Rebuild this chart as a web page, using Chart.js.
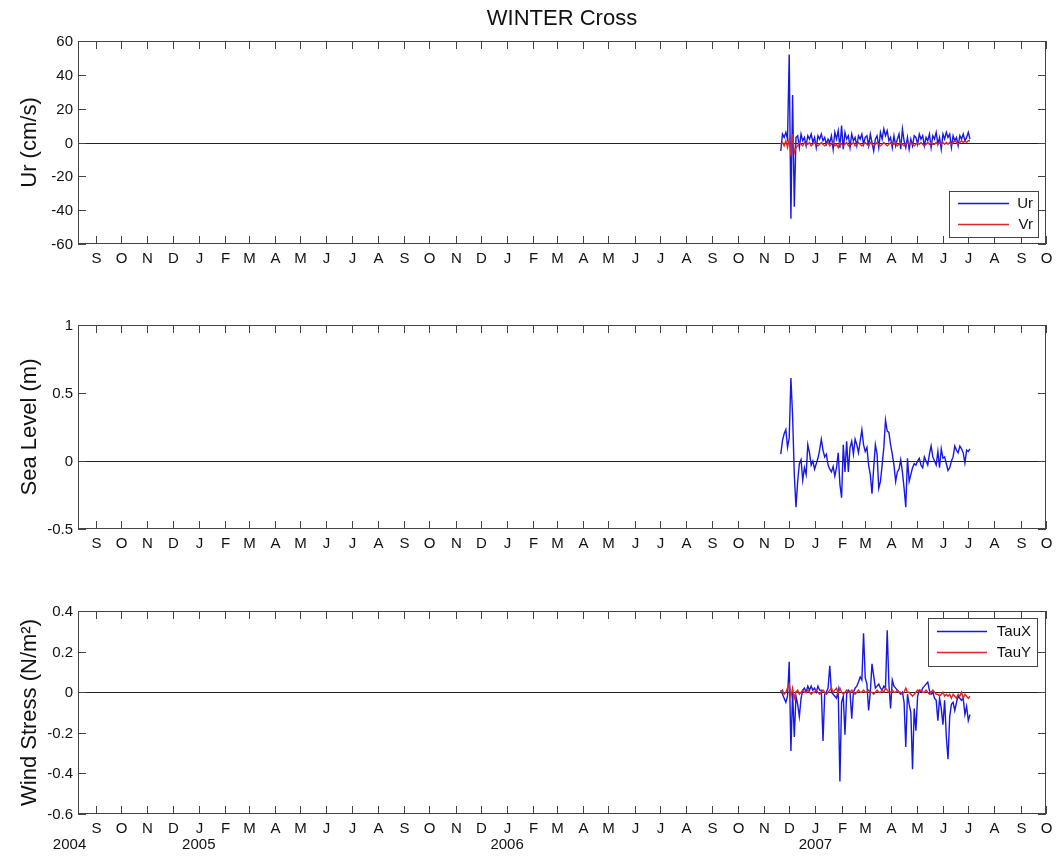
<!DOCTYPE html>
<html>
<head>
<meta charset="utf-8">
<title>WINTER Cross</title>
<script src="https://cdn.jsdelivr.net/npm/chart.js@4.4.1/dist/chart.umd.min.js"></script>
<style>
  html, body { margin: 0; padding: 0; background: #fff; }
  #wrap { position: relative; width: 1056px; height: 857px; }
  canvas { position: absolute; left: 0; }
</style>
</head>
<body>
<div id="wrap">
  <canvas id="chart1" width="1056" height="290" style="top:0px"></canvas>
  <canvas id="chart2" width="1056" height="285" style="top:290px"></canvas>
  <canvas id="chart3" width="1056" height="282" style="top:575px"></canvas>
</div>
<script>
"use strict";
const BLUE = '#1818e6';
const RED = '#e02424';
const FONT = '"Liberation Sans", Arial, Helvetica, sans-serif';

// x axis: month ticks from Sep 2004 to Oct 2007
const xTickLabels = [
  'S', 'O', 'N', 'D',
  'J', 'F', 'M', 'A', 'M', 'J', 'J', 'A', 'S', 'O', 'N', 'D',
  'J', 'F', 'M', 'A', 'M', 'J', 'J', 'A', 'S', 'O', 'N', 'D',
  'J', 'F', 'M', 'A', 'M', 'J', 'J', 'A', 'S', 'O'
];
const yearLabels = ['2004', '2005', '2006', '2007'];
const yearDates = [[2004, 7, 1], [2005, 0, 1], [2006, 0, 1], [2007, 0, 1]];

// series: one value every 2 days from 21 Nov 2006
const seriesStart = [2006, 10, 21];
const stepDays = 2;

const urValues = [
  -5, 5, 3, 6, 2, 52, -45, 28, -38, 3,
  4, -3, 5, 1, 3, -2, 4, 2, 5, 0,
  3, -3, 4, 2, 5, 1, 3, -1, 2, 0,
  4, -4, 6, 2, 7, -3, 10, -4, 6, 2,
  4, -3, 5, 1, 3, -2, 4, 2, 5, -1,
  3, 4, -2, 5, 0, -5, 2, 4, -3, 6,
  2, 8, 4, 7, 1, 3, -3, 4, -2, 2,
  5, -4, 8, 1, -3, 3, -4, 2, -2, 4,
  3, -1, 5, 2, 4, -2, 3, 1, 5, -3,
  4, 2, 6, -1, 3, -4, 5, 2, 6, 3,
  5, -3, 4, 1, 3, -2, 4, 2, 5, 1,
  3, 6, 2
];
const vrValues = [
  -1, 0, -2, 1, -3, 2, -8, 5, -6, -3,
  -2, 0, -1, -2, 0, -1, -1, 0, -2, -1,
  0, -1, -2, -1, 0, -1, -2, -1, 0, -2,
  -1, 0, -2, -1, -3, 0, -1, -2, -1, 0,
  -2, -1, -1, 0, -2, -1, 0, -1, -2, -1,
  0, -1, -2, 0, -1, -2, -1, 0, -1, -2,
  -1, 0, -1, -2, -1, 0, -1, -1, 0, -2,
  -1, 0, -1, -2, -1, 0, -1, 0, -1, -2,
  -1, 0, -1, 0, -1, -2, -1, 0, -1, 0,
  -1, -1, 0, -1, 0, -1, 0, -1, 0, -1,
  0, -1, 0, 1, 0, -1, 0, 1, 0, 1,
  0, 1, 1
];
const seaLevelValues = [
  0.05, 0.15, 0.2, 0.23, 0.1, 0.17, 0.61, 0.33, -0.1, -0.34,
  -0.15, -0.02, 0.01, -0.14, -0.05, -0.1, 0.12, 0.06, -0.03, 0.0,
  -0.06, -0.02, 0.02, 0.08, 0.16, 0.08, 0.03, 0.05, -0.03, -0.06,
  -0.08, -0.04, -0.11, -0.05, 0.06, -0.17, -0.27, 0.12, -0.08, 0.145,
  -0.08, 0.1, 0.145, 0.05, 0.16, 0.12, 0.06, 0.145, 0.23, 0.12,
  0.07, 0.1, -0.03, -0.1, -0.24, -0.05, 0.12, 0.05, -0.2, -0.15,
  -0.03, 0.1, 0.3, 0.22, 0.21, 0.12, 0.05, -0.03, -0.15, -0.08,
  -0.06, 0.01, -0.08, -0.2, -0.34, 0.02, -0.15, -0.1, -0.05, -0.02,
  -0.03, 0.0, 0.02, -0.03, -0.05, 0.03, 0.0, -0.03, 0.05, 0.11,
  0.03, 0.0, -0.03, 0.07, -0.05, 0.09, 0.02, 0.03, -0.02, -0.07,
  -0.05, 0.0, 0.03, 0.11, 0.08, 0.06, 0.11, 0.09, 0.06, -0.015,
  0.08, 0.07, 0.09
];
const tauXValues = [
  0.01, -0.01, -0.03, -0.05, -0.02, 0.15, -0.29, 0.0, -0.22, -0.02,
  -0.06, -0.12, -0.03, 0.01, 0.02, 0.0, 0.03, 0.01, 0.03, 0.01,
  0.02, 0.0, 0.03, 0.01, 0.01, -0.24, -0.01, 0.0, 0.02, 0.13,
  0.0, -0.01, -0.02, -0.03, 0.01, -0.44, -0.05, -0.02, -0.21, -0.01,
  0.01, 0.0, -0.13, 0.0, 0.02, 0.03, 0.05, 0.075, 0.06, 0.29,
  0.07, 0.04, -0.09, 0.0, 0.14, 0.08, 0.02, 0.03, 0.04, 0.02,
  0.01, 0.03, 0.02, 0.305, 0.04, -0.08, 0.06, 0.03, 0.02, 0.01,
  0.0, -0.01, 0.0, -0.05, -0.27, -0.01, -0.06, -0.1, -0.38, -0.08,
  -0.19, -0.02, 0.01, 0.0, 0.02, 0.03, 0.04, 0.05, 0.01, -0.01,
  0.0, -0.03, -0.04, -0.14, -0.03, -0.08, -0.16, -0.04, -0.22, -0.33,
  -0.12, -0.06, -0.05, -0.09, -0.05, -0.02, -0.03, -0.04, -0.03, -0.11,
  -0.07, -0.14, -0.11
];
const tauYValues = [
  0.0, 0.01, -0.01, 0.0, 0.02, 0.04, -0.02, 0.02, -0.03, 0.0,
  0.01, -0.01, 0.0, 0.01, 0.0, 0.0, 0.01, 0.0, -0.01, 0.0,
  0.0, 0.01, 0.0, -0.01, 0.0, 0.01, 0.0, -0.01, 0.0, 0.01,
  0.02, 0.0, 0.01, 0.02, -0.01, 0.02, 0.0, -0.01, 0.0, 0.01,
  0.0, 0.0, 0.01, 0.0, -0.01, 0.0, 0.01, 0.0, 0.0, 0.01,
  0.0, 0.0, 0.01, 0.0, 0.0, -0.01, 0.0, 0.01, 0.0, 0.0,
  0.01, 0.0, 0.02, 0.01, 0.0, 0.0, 0.01, 0.0, 0.0, 0.01,
  0.0, 0.0, -0.01, 0.0, 0.02, 0.0, 0.0, -0.01, -0.02, -0.01,
  0.0, 0.01, 0.0, 0.01, 0.0, 0.0, 0.01, 0.0, -0.01, 0.0,
  0.01, 0.0, -0.01, -0.01, -0.02, -0.01, 0.0, -0.02, -0.01, -0.02,
  -0.01, -0.03, -0.01, -0.02, -0.03, -0.01, -0.02, 0.0, -0.03, -0.01,
  -0.02, -0.03, -0.02
];

// y ticks of each panel
const urTicks = [-60, -40, -20, 0, 20, 40, 60];
const seaLevelTicks = [-0.5, 0, 0.5, 1];
const tauTicks = [-0.6, -0.4, -0.2, 0, 0.2, 0.4];

// days since 1 Sep 2004
function dayOf(y, m, d) {
  return (Date.UTC(y, m, d) - Date.UTC(2004, 8, 1)) / 86400000;
}
const X_MIN = -21;
const X_MAX = dayOf(2007, 9, 1);
const monthTicks = xTickLabels.map((l, k) => dayOf(2004, 8 + k, 1));

function toPoints(values) {
  const d0 = dayOf(seriesStart[0], seriesStart[1], seriesStart[2]);
  return values.map((v, i) => ({ x: d0 + i * stepDays, y: v }));
}

function makeAxesPlugin(panel) {
  const TICK = 8;
  return {
    id: 'matlabAxes',
    beforeDatasetsDraw(chart) {
      const { ctx, chartArea: a, scales: { y } } = chart;
      const y0 = Math.round(y.getPixelForValue(0)) + 0.5;
      ctx.save();
      ctx.strokeStyle = '#222';
      ctx.lineWidth = 1;
      ctx.beginPath();
      ctx.moveTo(a.left, y0);
      ctx.lineTo(a.right, y0);
      ctx.stroke();
      ctx.restore();
    },
    afterDraw(chart) {
      const { ctx, chartArea: a, scales: { x, y } } = chart;
      ctx.save();
      ctx.strokeStyle = '#444';
      ctx.lineWidth = 1;
      ctx.strokeRect(a.left + 0.5, a.top + 0.5, a.right - a.left - 1, a.bottom - a.top - 1);
      ctx.fillStyle = '#111';

      // x ticks (inward, top and bottom) and month letters
      ctx.font = '15px ' + FONT;
      ctx.textAlign = 'center';
      ctx.textBaseline = 'middle';
      ctx.beginPath();
      monthTicks.forEach((d, k) => {
        const px = Math.round(x.getPixelForValue(d)) + 0.5;
        ctx.moveTo(px, a.bottom);
        ctx.lineTo(px, a.bottom - TICK);
        ctx.moveTo(px, a.top);
        ctx.lineTo(px, a.top + TICK);
        ctx.fillText(xTickLabels[k], px, a.bottom + 15);
      });
      // y ticks (inward, left and right)
      ctx.textAlign = 'right';
      panel.yTicks.forEach(v => {
        const py = Math.round(y.getPixelForValue(v)) + 0.5;
        ctx.moveTo(a.left, py);
        ctx.lineTo(a.left + TICK, py);
        ctx.moveTo(a.right, py);
        ctx.lineTo(a.right - TICK, py);
        ctx.fillText(String(v), a.left - 5, py);
      });
      ctx.stroke();

      // y axis title
      ctx.save();
      ctx.translate(30, (a.top + a.bottom) / 2);
      ctx.rotate(-Math.PI / 2);
      ctx.textAlign = 'center';
      ctx.font = '22px ' + FONT;
      ctx.fillText(panel.yTitle, 0, 0);
      ctx.restore();

      if (panel.title) {
        ctx.textAlign = 'center';
        ctx.font = '22px ' + FONT;
        ctx.fillText(panel.title, (a.left + a.right) / 2, a.top - 22);
      }
      if (panel.years) {
        ctx.textAlign = 'center';
        ctx.font = '15px ' + FONT;
        yearLabels.forEach((t, k) => {
          const d = yearDates[k];
          ctx.fillText(t, x.getPixelForValue(dayOf(d[0], d[1], d[2])), a.bottom + 31);
        });
      }

      // legend box
      const lg = panel.legend;
      if (lg) {
        ctx.fillStyle = '#fff';
        ctx.fillRect(lg.x, lg.y, lg.w, lg.h);
        ctx.strokeStyle = '#444';
        ctx.strokeRect(lg.x + 0.5, lg.y + 0.5, lg.w, lg.h);
        ctx.font = '15px ' + FONT;
        ctx.textAlign = 'right';
        panel.series.forEach((s, k) => {
          const ly = Math.round(lg.rowY[k]) + 0.5;
          ctx.strokeStyle = s.color;
          ctx.lineWidth = 1.3;
          ctx.beginPath();
          ctx.moveTo(lg.lineX1, ly);
          ctx.lineTo(lg.lineX2, ly);
          ctx.stroke();
          ctx.fillStyle = '#111';
          ctx.fillText(s.label, lg.textRight, ly);
        });
      }
      ctx.restore();
    }
  };
}

function initPanel(canvasId, panel) {
  const ctx = document.getElementById(canvasId);
  return new Chart(ctx, {
    type: 'line',
    data: {
      datasets: panel.series.map(s => ({
        label: s.label,
        data: toPoints(s.values),
        borderColor: s.color,
        borderWidth: 1.4,
        pointRadius: 0,
        tension: 0,
        order: s.order
      }))
    },
    options: {
      responsive: false,
      animation: false,
      events: [],
      layout: { padding: panel.padding },
      plugins: { legend: { display: false }, tooltip: { enabled: false } },
      scales: {
        x: { type: 'linear', min: X_MIN, max: X_MAX, display: false },
        y: { min: panel.yMin, max: panel.yMax, display: false }
      }
    },
    plugins: [makeAxesPlugin(panel)]
  });
}

initPanel('chart1', {
  title: 'WINTER Cross',
  yTitle: 'Ur (cm/s)',
  yMin: -60, yMax: 60, yTicks: urTicks,
  padding: { left: 78, right: 10, top: 41, bottom: 46 },
  series: [
    { label: 'Ur', values: urValues, color: BLUE, order: 2 },
    { label: 'Vr', values: vrValues, color: RED, order: 1 }
  ],
  legend: { x: 949, y: 191, w: 89, h: 46, lineX1: 958, lineX2: 1009, textRight: 1033, rowY: [203, 224] }
});

initPanel('chart2', {
  yTitle: 'Sea Level (m)',
  yMin: -0.5, yMax: 1, yTicks: seaLevelTicks,
  padding: { left: 78, right: 10, top: 35, bottom: 46 },
  series: [
    { label: 'Sea Level', values: seaLevelValues, color: BLUE, order: 1 }
  ]
});

initPanel('chart3', {
  yTitle: 'Wind Stress (N/m²)',
  yMin: -0.6, yMax: 0.4, yTicks: tauTicks,
  years: true,
  padding: { left: 78, right: 10, top: 36, bottom: 43 },
  series: [
    { label: 'TauX', values: tauXValues, color: BLUE, order: 2 },
    { label: 'TauY', values: tauYValues, color: RED, order: 1 }
  ],
  legend: { x: 928, y: 43, w: 109, h: 48, lineX1: 937, lineX2: 987, textRight: 1031, rowY: [56, 77] }
});
</script>
</body>
</html>
